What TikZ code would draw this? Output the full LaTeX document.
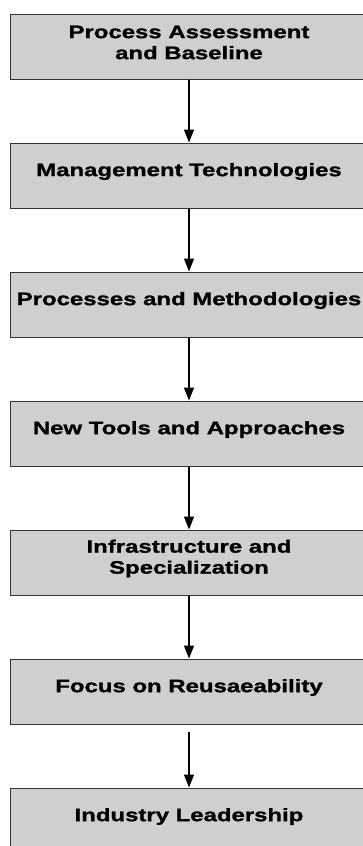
\documentclass[tikz,border=0pt]{standalone}
\usepackage{fontspec}
\newfontfamily\stagefont[FakeStretch=1.33, BoldFeatures={FakeBold=1.2}]{Liberation Sans}
\usetikzlibrary{arrows.meta}

\tikzset{
  stage/.style={draw=black!80, line width=1pt, fill=black!19,
    minimum width=358pt, minimum height=65pt, inner sep=0pt},
  stagetext/.style={font=\stagefont\bfseries\fontsize{18}{21}\selectfont, align=center},
  flow/.style={line width=1.3pt, -{Triangle[width=10pt,length=13pt]}}
}

\begin{document}
\begin{tikzpicture}[x=1pt,y=1pt]
% Page size of the reference
\useasboundingbox (0,0) rectangle (363,-846);
\clip (0,0) rectangle (363,-846);

% Draw the seven stages from top to bottom
\foreach \i/\txt in {1/{Process Assessment\\and Baseline},
                     2/{Management Technologies},
                     3/{Processes and Methodologies},
                     4/{New Tools and Approaches},
                     5/{Infrastructure and\\Specialization},
                     6/{Focus on Reusaeability},
                     7/{Industry Leadership}}
{
  \node[stage] (s\i) at (189,{-46.5-129*(\i-1)}) {};
  \node[stagetext] (t\i) at ([yshift=4pt]s\i.center) {\txt};
}

% Draw arrows between the stages
\foreach \i/\j in {1/2,2/3,3/4,4/5,5/6}
  \draw[flow] (s\i.south) -- (s\j.north);

% Last arrow starts a bit below the box
\draw[flow, shorten <=7pt] (s6.south) -- (s7.north);
\end{tikzpicture}
\end{document}
